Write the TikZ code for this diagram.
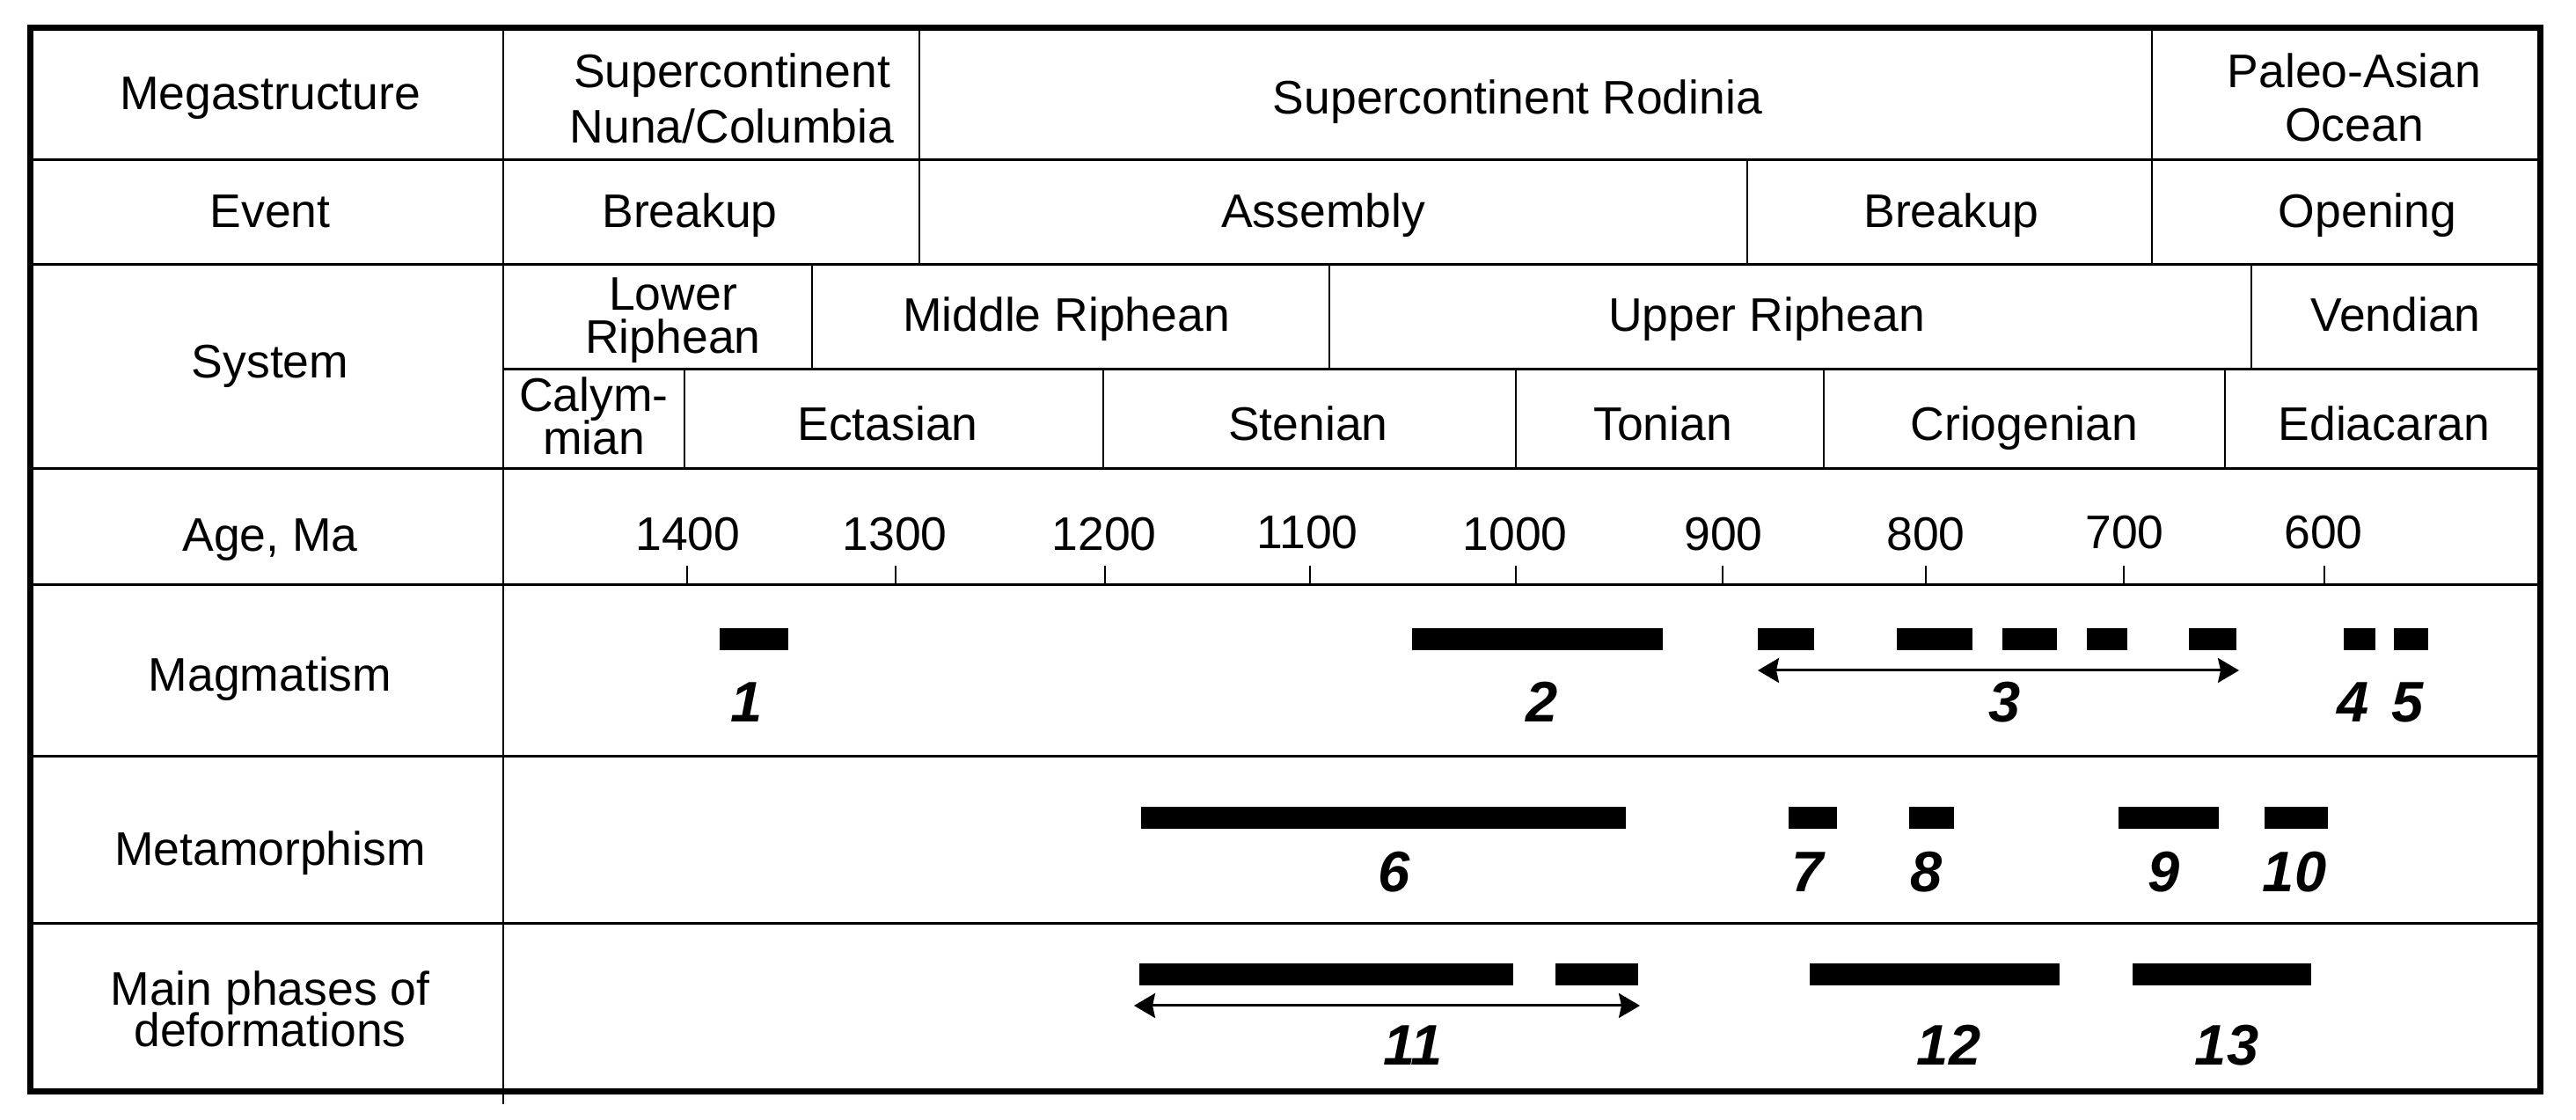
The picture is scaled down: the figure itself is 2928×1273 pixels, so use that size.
\documentclass[tikz,border=0pt]{standalone}
\usepackage{fontspec}
\setmainfont{Liberation Sans}
\usetikzlibrary{arrows.meta}
\begin{document}
\begin{tikzpicture}[x=0.2pt,y=-0.2pt,
  hdr/.style={font=\fontsize{10.7}{12.4}\selectfont, inner sep=0pt, anchor=base},
  num/.style={font=\fontsize{13}{15}\selectfont\bfseries\itshape, inner sep=0pt, anchor=base},
  bar/.style={fill=black, draw=none},
  rowline/.style={line width=0.6pt},
  colline/.style={line width=0.5pt},
  tickline/.style={line width=0.45pt},
  spanarrow/.style={{Stealth[length=4.8pt,width=5.6pt,inset=0.6pt]}-{Stealth[length=4.8pt,width=5.6pt,inset=0.6pt]}, line width=0.6pt}
]
\useasboundingbox (0,0) rectangle (2928,1273);

% ---------- grid ----------
\foreach \yy in {182,301,533,665,860,1050} \draw[rowline] (34,\yy) -- (2887,\yy);
\draw[rowline] (572,420) -- (2887,420);
\draw[colline] (572,31) -- (572,1255);
% megastructure row
\foreach \xx in {1045,2446} \draw[colline] (\xx,31) -- (\xx,182);
% event row
\foreach \xx in {1045,1986,2446} \draw[colline] (\xx,182) -- (\xx,301);
% system upper
\foreach \xx in {923,1511,2559} \draw[colline] (\xx,301) -- (\xx,420);
% system lower
\foreach \xx in {778,1254,1723,2073,2529} \draw[colline] (\xx,420) -- (\xx,533);
% age ticks
\foreach \xx in {781,1018,1256,1489,1723,1958,2189,2414,2642} \draw[tickline] (\xx,643) -- (\xx,665);
% outer frame
\draw[line width=1.4pt] (34,31.5) rectangle (2887,1240.5);

% ---------- row labels ----------
\node[hdr] (lmega) at (307,125) {Megastructure};
\node[hdr] (levent) at (307,259) {Event};
\node[hdr] (lsys) at (307,430) {System};
\node[hdr] (lage) at (307,627) {Age, Ma};
\node[hdr] (lmag) at (307,786) {Magmatism};
\node[hdr] (lmet) at (307,984) {Metamorphism};
\node[hdr] (ldefa) at (307,1143) {Main phases of};
\node[hdr] (ldefb) at (307,1190) {deformations};

% ---------- megastructure ----------
\node[hdr] (nunaa) at (832,100) {Supercontinent};
\node[hdr] (nunab) at (832,163) {Nuna/Columbia};
\node[hdr] (rodinia) at (1725,130) {Supercontinent Rodinia};
\node[hdr] (paleoa) at (2676,100) {Paleo-Asian};
\node[hdr] (paleob) at (2676,161) {Ocean};

% ---------- event ----------
\node[hdr] (ev1) at (784,259) {Breakup};
\node[hdr] (ev2) at (1504,259) {Assembly};
\node[hdr] (ev3) at (2218,259) {Breakup};
\node[hdr] (ev4) at (2691,259) {Opening};

% ---------- system ----------
\node[hdr] (lowera) at (765,353) {Lower};
\node[hdr] (lowerb) at (765,402) {Riphean};
\node[hdr] (middle) at (1212,377) {Middle Riphean};
\node[hdr] (upper) at (2008,377) {Upper Riphean};
\node[hdr] (vend) at (2723,377) {Vendian};

\node[hdr] (calya) at (675,468) {Calym-};
\node[hdr] (calyb) at (675,517) {mian};
\node[hdr] (ecta) at (1009,501) {Ectasian};
\node[hdr] (sten) at (1487,501) {Stenian};
\node[hdr] (toni) at (1890,501) {Tonian};
\node[hdr] (crio) at (2301,501) {Criogenian};
\node[hdr] (edia) at (2710,501) {Ediacaran};

% ---------- ages ----------
\node[hdr] (a1400) at (782,626) {1400};
\node[hdr] (a1300) at (1017,626) {1300};
\node[hdr] (a1200) at (1255,626) {1200};
\node[hdr] (a1100) at (1486,624) {1100};
\node[hdr] (a1000) at (1722,626) {1000};
\node[hdr] (a900) at (1959,626) {900};
\node[hdr] (a800) at (2189,626) {800};
\node[hdr] (a700) at (2415,624) {700};
\node[hdr] (a600) at (2641,624) {600};

% ---------- magmatism ----------
\fill[bar] (818,714.5) rectangle (896,739.5);
\fill[bar] (1605,714.5) rectangle (1890,739.5);
\fill[bar] (1998,714.5) rectangle (2062,739.5);
\fill[bar] (2156,714.5) rectangle (2242,739.5);
\fill[bar] (2276,714.5) rectangle (2338,739.5);
\fill[bar] (2372,714.5) rectangle (2418,739.5);
\fill[bar] (2488,714.5) rectangle (2542,739.5);
\fill[bar] (2664,714.5) rectangle (2700,739.5);
\fill[bar] (2721,714.5) rectangle (2760,739.5);
\coordinate (m3a) at (1998,762);
\coordinate (m3b) at (2545,762);
\draw[spanarrow] (m3a) -- (m3b);
\node[num] (n1) at (849,821) {1};
\node[num] (n2) at (1753,821) {2};
\node[num] (n3) at (2279,821) {3};
\node[num] (n4) at (2675,821) {4};
\node[num] (n5) at (2737,821) {5};

% ---------- metamorphism ----------
\fill[bar] (1297,917.5) rectangle (1848,942);
\fill[bar] (2033,917.5) rectangle (2088,942);
\fill[bar] (2170,917.5) rectangle (2221,942);
\fill[bar] (2408,917.5) rectangle (2522,942);
\fill[bar] (2574,917.5) rectangle (2646,942);
\node[num] (n6) at (1585,1014) {6};
\node[num] (n7) at (2055,1014) {7};
\node[num] (n8) at (2190,1014) {8};
\node[num] (n9) at (2460,1014) {9};
\node[num] (n10) at (2608,1014) {10};

% ---------- deformations ----------
\fill[bar] (1295,1095.5) rectangle (1720,1120.5);
\fill[bar] (1768,1095.5) rectangle (1862,1120.5);
\fill[bar] (2057,1095.5) rectangle (2341,1120.5);
\fill[bar] (2424,1095.5) rectangle (2627,1120.5);
\coordinate (d11a) at (1289,1143);
\coordinate (d11b) at (1864,1143);
\draw[spanarrow] (d11a) -- (d11b);
\node[num] (n11) at (1606,1211) {11};
\node[num] (n12) at (2215,1211) {12};
\node[num] (n13) at (2531,1211) {13};
\end{tikzpicture}
\end{document}
